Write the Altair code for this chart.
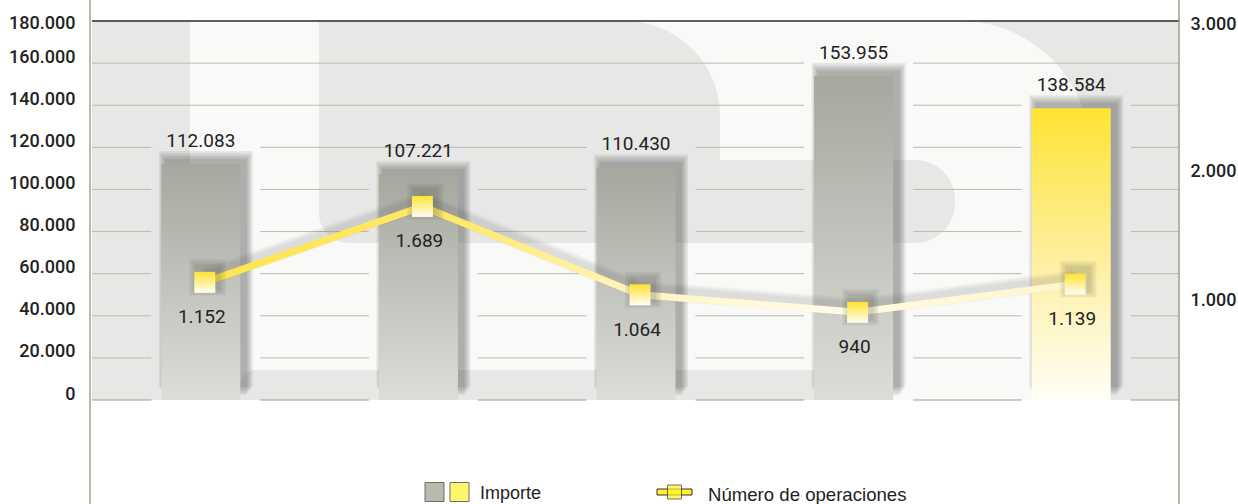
import altair as alt
import pandas as pd

years = ["1999", "2000", "2001", "2002", "2003"]
importe = [112083, 107221, 110430, 153955, 138584]
importe_lbl = ["112.083", "107.221", "110.430", "153.955", "138.584"]
operaciones = [1152, 1689, 1064, 940, 1139]
operaciones_lbl = ["1.152", "1.689", "1.064", "940", "1.139"]
left_ticks = [0, 20000, 40000, 60000, 80000, 100000, 120000, 140000, 160000, 180000]
right_ticks = [1000, 2000, 3000]
YMAX = 180000

df = pd.DataFrame({
    "year": years, "importe": importe, "ilbl": importe_lbl,
    "ops": operaciones, "olbl": operaciones_lbl,
})

FONT = "Roboto"
W, H = 1088, 379
BG = "#e7e8e5"
WHITE = "#f9f9f8"

# ---------- gridline segments, broken around each bar's frame ----------
step = W / len(years)
segs = []
for t in left_ticks[:-1]:
    y = H - t / YMAX * H
    gaps = []
    for i, v in enumerate(importe):
        c = (i + 0.5) * step
        top = H - v / YMAX * H - 21
        if y > top:
            gaps.append((c - 49.5, c + 59.5))
    x0 = 0
    for a, b in gaps:
        segs.append({"x1": x0, "x2": a, "y": y, "zero": t == 0})
        x0 = b
    segs.append({"x1": x0, "x2": W, "y": y, "zero": t == 0})
segdf = pd.DataFrame(segs)

grid = alt.Chart(segdf).mark_rule(strokeWidth=1).encode(
    x=alt.X("x1:Q", scale=None, axis=None), x2="x2:Q",
    y=alt.Y("y:Q", scale=None, axis=None),
    color=alt.condition("datum.zero", alt.value("#9a9a96"), alt.value("#b9b9b5")),
)

one = alt.Chart(pd.DataFrame({"a": [0]}))
def shape(x1, x2, y1, y2, fill, **kw):
    return one.mark_rect(fill=fill, **kw).encode(
        x=alt.value(x1 - 92), x2=alt.value(x2 - 92), y=alt.value(y1 - 21), y2=alt.value(y2 - 21))

logo = alt.layer(
    shape(190, 1090, 21, 400, WHITE, cornerRadiusTopRight=130),
    shape(319, 720, 21, 243, BG, cornerRadiusTopRight=95, cornerRadiusBottomLeft=30),
    shape(690, 955, 160, 243, BG, cornerRadiusTopRight=40, cornerRadiusBottomRight=40),
    shape(240, 887, 370, 400, BG, cornerRadiusTopRight=30, cornerRadiusTopLeft=20),
)
top_rule = one.mark_rule(color="#2a2a2a", strokeWidth=1.3).encode(
    y=alt.value(0), x=alt.value(0), x2=alt.value(W))
deco = alt.layer(logo, grid, top_rule)

# ---------- bars (left axis) ----------
lab_expr = "replace(format(datum.value, ','), ',', '.')"
xenc = alt.X("year:N", sort=years,
             scale=alt.Scale(paddingInner=0, paddingOuter=0),
             axis=alt.Axis(title=None, domain=False, ticks=False, labelAngle=0,
                           labelFontSize=17, labelFont=FONT, labelFontWeight=500,
                           labelColor="#222", labelPadding=17))
xnoax = alt.X("year:N", sort=years, scale=alt.Scale(paddingInner=0, paddingOuter=0), axis=None)
yl = alt.Y("importe:Q", scale=alt.Scale(domain=[0, YMAX], nice=False),
           axis=alt.Axis(title=None, values=left_ticks, grid=False, domain=False, ticks=False,
                         labelPadding=17, labelFontSize=18, labelFont=FONT, labelFontWeight=500,
                         labelColor="#222", labelBaseline="alphabetic",
                         labelOffset={"condition": {"test": "datum.value == 180000", "value": 7}, "value": -1},
                         labelExpr=lab_expr))

base = alt.Chart(df)

gray_grad = alt.Gradient(gradient="linear", x1=0, x2=0, y1=0, y2=1,
                         stops=[alt.GradientStop(color="#a6a89f", offset=0),
                                alt.GradientStop(color="#dcddd9", offset=1)])
yel_grad = alt.Gradient(gradient="linear", x1=0, x2=0, y1=0, y2=1,
                        stops=[alt.GradientStop(color="#ffe433", offset=0),
                               alt.GradientStop(color="#fdef9c", offset=0.5),
                               alt.GradientStop(color="#fffef8", offset=1)])

shadows = [base.mark_bar(size=79 + 3 * k, color="#333331", opacity=0.085, xOffset=5,
                         yOffset=-(3 + 2 * k), y2Offset=-4).encode(x=xnoax, y=yl)
           for k in range(1, 6)]
bars_gray = base.mark_bar(size=79, fill=gray_grad).encode(x=xenc, y=yl).transform_filter(alt.datum.year != "2003")
bars_yel = base.mark_bar(size=79, fill=yel_grad).encode(x=xenc, y=yl).transform_filter(alt.datum.year == "2003")
bar_text = base.mark_text(baseline="alphabetic", dy=-17, fontSize=19, font=FONT, color="#222").encode(
    x=xnoax, y=yl, text="ilbl:N")
bars_layer = alt.layer(*shadows, bars_gray, bars_yel, bar_text)

# ---------- line (right axis) ----------
yr = alt.Y("ops:Q", scale=alt.Scale(domain=[320, 3000], nice=False, zero=False),
           axis=alt.Axis(title=None, orient="right", values=right_ticks, grid=False,
                         domain=False, ticks=False, labelPadding=10,
                         labelFontSize=18, labelFont=FONT, labelFontWeight=500, labelColor="#222",
                         labelBaseline="middle",
                         labelOffset={"condition": [{"test": "datum.value == 2000", "value": 9},
                                                    {"test": "datum.value == 3000", "value": 3}],
                                      "value": -3},
                         labelExpr=lab_expr))
line_grad = alt.Gradient(gradient="linear", x1=0, x2=1, y1=0, y2=0,
                         stops=[alt.GradientStop(color="#ffe550", offset=0),
                                alt.GradientStop(color="#ffe866", offset=0.28),
                                alt.GradientStop(color="#fff5c2", offset=0.5),
                                alt.GradientStop(color="#fffbe4", offset=0.7),
                                alt.GradientStop(color="#fff6cc", offset=1)])
sq_grad = alt.Gradient(gradient="linear", x1=0, x2=0, y1=0, y2=1,
                       stops=[alt.GradientStop(color="#ffe232", offset=0),
                              alt.GradientStop(color="#fffef4", offset=1)])

line_sh = [base.mark_line(color="#3a3a38", strokeWidth=6 + 4 * k, opacity=0.05, xOffset=4,
                          yOffset=-5).encode(x=xnoax, y=yr) for k in range(1, 4)]
line = base.mark_line(stroke=line_grad, strokeWidth=7, xOffset=4).encode(x=xnoax, y=yr)
pt_sh = [base.mark_square(size=(21 + 5 * k) ** 2, color="#2e2e2c", opacity=0.08, xOffset=7,
                          yOffset=-5).encode(x=xnoax, y=yr) for k in range(1, 4)]
pts = base.mark_square(size=441, fill=sq_grad, opacity=1, xOffset=4).encode(x=xnoax, y=yr)
pt_text = base.mark_text(baseline="alphabetic", dy=41, fontSize=19, font=FONT, color="#222", xOffset=1).encode(
    x=xnoax, y=yr, text="olbl:N")
line_layer = alt.layer(*line_sh, line, *pt_sh, pts, pt_text)

# ---------- frame lines and legend ----------
vline_l = one.mark_rule(color="#a3a38d", strokeWidth=1.5).encode(x=alt.value(-2), y=alt.value(-21), y2=alt.value(H + 104))
vline_r = one.mark_rule(color="#a3a38d", strokeWidth=1.5).encode(x=alt.value(W - 1), y=alt.value(-21), y2=alt.value(H + 104))
leg_g = one.mark_square(size=361, fill="#9c9d8b", stroke="#333", strokeWidth=1).encode(x=alt.value(342.5), y=alt.value(471))
leg_y = one.mark_square(size=361, fill="#fff22a", stroke="#333", strokeWidth=1).encode(x=alt.value(367.5), y=alt.value(471))
leg_t1 = one.mark_text(align="left", baseline="middle", fontSize=18, font="Liberation Sans", color="#222").encode(
    x=alt.value(388), y=alt.value(473), text=alt.value("Importe"))
leg_bar = one.mark_rect(fill="#fff22a", stroke="#333", strokeWidth=1).encode(
    x=alt.value(565), x2=alt.value(600), y=alt.value(468), y2=alt.value(474))
leg_sq = one.mark_square(size=196, fill="#fff22a", stroke="#333", strokeWidth=1).encode(x=alt.value(582.5), y=alt.value(471))
leg_t2 = one.mark_text(align="left", baseline="middle", fontSize=18.6, font="Liberation Sans", color="#222").encode(
    x=alt.value(616), y=alt.value(474), text=alt.value("Número de operaciones"))
frame = alt.layer(vline_l, vline_r, leg_g, leg_y, leg_t1, leg_bar, leg_sq, leg_t2)

chart = alt.layer(deco, bars_layer, line_layer, frame).resolve_scale(
    x="independent", y="independent").properties(
    width=W, height=H,
    autosize=alt.AutoSizeParams(type="none"),
    padding={"left": 92, "top": 21, "right": 58, "bottom": 104},
    background="white",
).configure_view(fill=BG, stroke=None)

chart.save("out.html", embed_options={"renderer": "svg", "actions": False})
